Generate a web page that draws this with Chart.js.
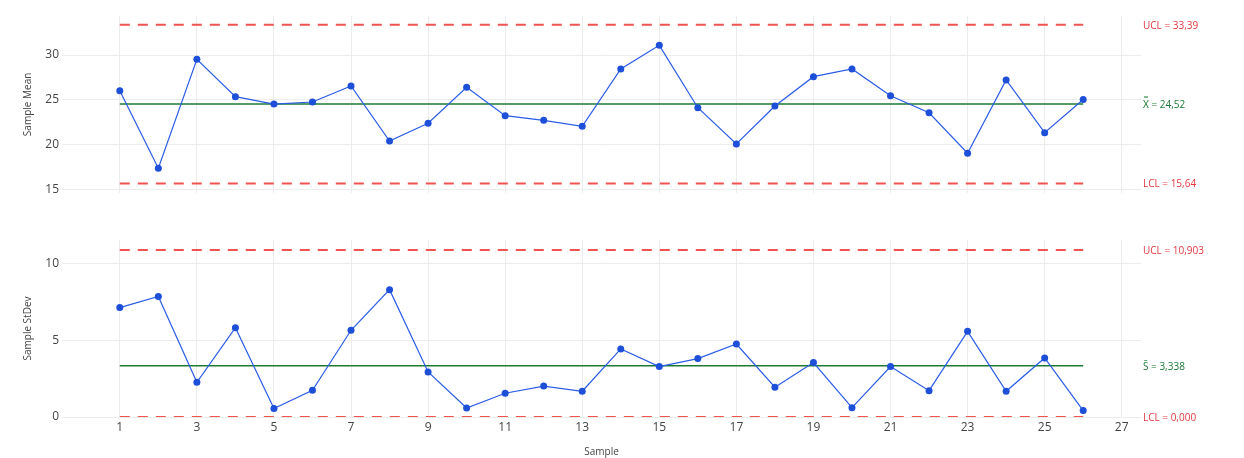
<!DOCTYPE html>
<html>
<head>
<meta charset="utf-8">
<script src="https://cdn.jsdelivr.net/npm/chart.js@4/dist/chart.umd.min.js"></script>
<style>
  html, body { margin: 0; padding: 0; background: #fff; }
  #wrap { position: relative; width: 1244px; height: 458px; }
  #meanWrap { position: absolute; left: 0; top: 0; width: 1244px; height: 203px; }
  #sdWrap { position: absolute; left: 0; top: 200px; width: 1244px; height: 258px; }
</style>
</head>
<body>
<div id="wrap">
  <div id="meanWrap"><canvas id="meanChart"></canvas></div>
  <div id="sdWrap"><canvas id="sdChart"></canvas></div>
</div>
<script>
const samples = [1, 2, 3, 4, 5, 6, 7, 8, 9, 10, 11, 12, 13, 14, 15, 16, 17, 18, 19, 20, 21, 22, 23, 24, 25, 26];
const meanValues = [26.01, 17.34, 29.52, 25.34, 24.52, 24.75, 26.54, 20.39, 22.37, 26.39, 23.22, 22.70, 22.03,
  28.44, 31.08, 24.11, 20.06, 24.30, 27.58, 28.44, 25.45, 23.55, 19.02, 27.21, 21.32, 25.03];
const sdValues = [7.14, 7.87, 2.26, 5.83, 0.55, 1.74, 5.66, 8.31, 2.94, 0.59, 1.55, 2.02, 1.68,
  4.44, 3.29, 3.81, 4.76, 1.94, 3.55, 0.61, 3.29, 1.72, 5.59, 1.68, 3.85, 0.42];
const meanLimits = { ucl: 33.39, center: 24.52, lcl: 15.64 };
const sdLimits = { ucl: 10.903, center: 3.338, lcl: 0 };
const xTicks = [1, 3, 5, 7, 9, 11, 13, 15, 17, 19, 21, 23, 25, 27];
const meanTicks = [15, 20, 25, 30];
const sdTicks = [0, 5, 10];

const FONT = '"Open Sans", "Noto Sans", sans-serif';
const BLUE = '#2a5ce6';
const GREEN = '#1b7a34';
const RED = '#ef5350';
const GRID = '#ececec';

// horizontal limit line from first to last sample
function limitLine(value, color, dashed, width) {
  return {
    data: [{ x: samples[0], y: value }, { x: samples[samples.length - 1], y: value }],
    borderColor: color,
    borderWidth: width,
    borderDash: dashed ? [10, 8] : [],
    pointRadius: 0,
    clip: 0,
    order: 2
  };
}

// text labels on the right of each panel
const sideLabels = {
  id: 'sideLabels',
  afterDraw(chart, args, opts) {
    const ctx = chart.ctx;
    const y = chart.scales.y;
    ctx.save();
    ctx.font = '10px ' + FONT;
    ctx.textAlign = 'left';
    ctx.textBaseline = 'middle';
    opts.items.forEach(it => {
      ctx.fillStyle = it.color;
      ctx.fillText(it.text, chart.chartArea.right + 2, y.getPixelForValue(it.value) + 1);
    });
    ctx.restore();
  }
};

function fmt(v, d) { return v.toFixed(d).replace('.', ','); }

function makeChart(id, values, limits, yTicks, yMin, yMax, yTitle, isBottom, labels) {
  return new Chart(document.getElementById(id), {
    type: 'line',
    data: {
      datasets: [
        {
          data: samples.map((s, i) => ({ x: s, y: values[i] })),
          borderColor: BLUE,
          borderWidth: 1.2,
          backgroundColor: '#1d4fd8',
          pointBackgroundColor: '#1d4fd8',
          pointBorderWidth: 0,
          pointRadius: 3.5,
          tension: 0,
          clip: 0,
          order: 1
        },
        limitLine(limits.ucl, RED, true, 2),
        limitLine(limits.center, GREEN, false, 1.5),
        limitLine(limits.lcl, RED, true, 2)
      ]
    },
    options: {
      responsive: true,
      maintainAspectRatio: false,
      animation: false,
      layout: { padding: isBottom ? { top: 40, right: 103, bottom: 0, left: 0 } : { top: 16, right: 103, bottom: 0, left: 0 } },
      plugins: {
        legend: { display: false },
        tooltip: { enabled: false },
        sideLabels: { items: labels }
      },
      scales: {
        x: {
          type: 'linear',
          min: -0.5,
          max: 27.5,
          border: { display: false },
          grid: { color: GRID, drawTicks: false },
          afterBuildTicks: s => { s.ticks = xTicks.map(v => ({ value: v })); },
          afterFit: s => { s.height = isBottom ? 41 : 0; },
          ticks: { display: isBottom, padding: 3, color: '#444', font: { family: FONT, size: 12 } },
          title: { display: isBottom, text: 'Sample', color: '#444', padding: { top: 0, bottom: 0 }, font: { family: FONT, size: 10 } }
        },
        y: {
          min: yMin,
          max: yMax,
          border: { display: false },
          grid: { color: GRID, drawTicks: false },
          afterBuildTicks: s => { s.ticks = yTicks.map(v => ({ value: v })); },
          afterFit: s => { s.width = 62; },
          ticks: { padding: 3, color: '#444', font: { family: FONT, size: 12 } },
          title: { display: true, text: yTitle, color: '#444', padding: { top: 22, bottom: 0 }, font: { family: FONT, size: 10 } }
        }
      }
    },
    plugins: [sideLabels]
  });
}

makeChart('meanChart', meanValues, meanLimits, meanTicks, 14.6, 34.36, 'Sample Mean', false, [
  { text: 'UCL = ' + fmt(meanLimits.ucl, 2), value: meanLimits.ucl, color: '#e0393e' },
  { text: 'X\u033F = ' + fmt(meanLimits.center, 2), value: meanLimits.center, color: GREEN },
  { text: 'LCL = ' + fmt(meanLimits.lcl, 2), value: meanLimits.lcl, color: '#e0393e' }
]);

makeChart('sdChart', sdValues, sdLimits, sdTicks, 0, 11.55, 'Sample StDev', true, [
  { text: 'UCL = ' + fmt(sdLimits.ucl, 3), value: sdLimits.ucl, color: '#e0393e' },
  { text: 'S\u0304 = ' + fmt(sdLimits.center, 3), value: sdLimits.center, color: GREEN },
  { text: 'LCL = ' + fmt(sdLimits.lcl, 3), value: sdLimits.lcl, color: '#e0393e' }
]);
</script>
</body>
</html>
